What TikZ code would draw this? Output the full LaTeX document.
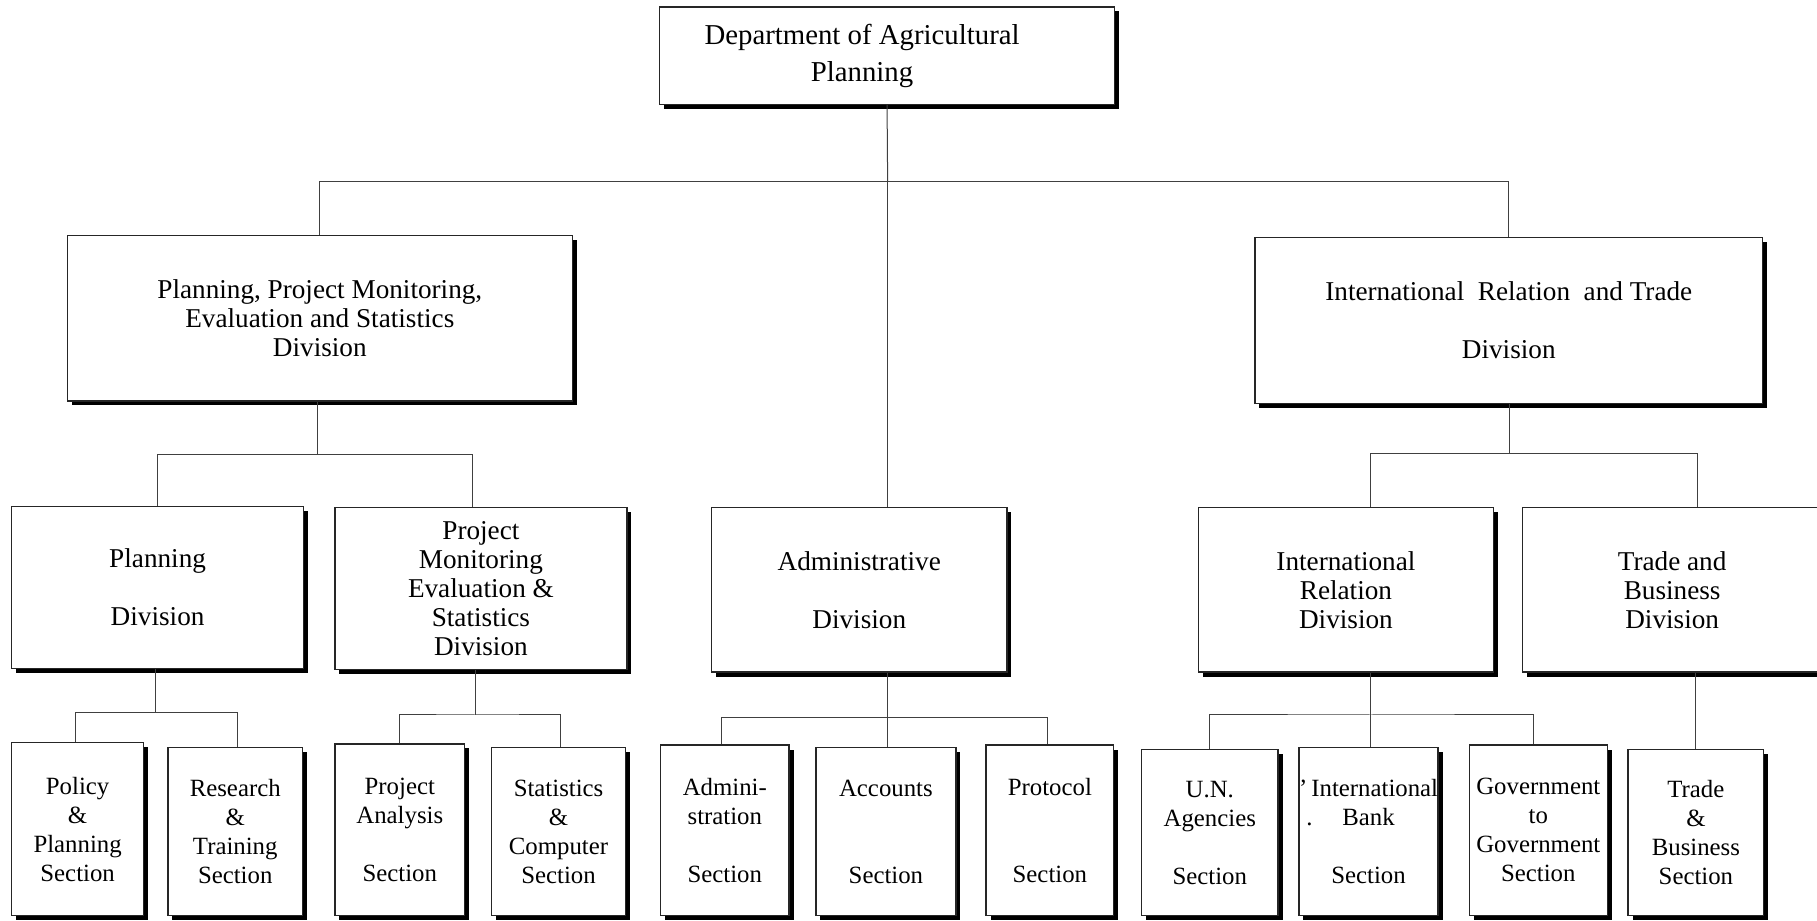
\documentclass[tikz,border=0pt]{standalone}
\usepackage{fontspec}
\setmainfont{Liberation Serif}
\usetikzlibrary{shadows}
\newcommand\bx[7][box]{\node[#1, minimum width={(#4-#2)*0.5794pt}, minimum height={(#5-#3)*0.5794pt}] (#6) at ({(#2+#4)/2},{(#3+#5)/2}) {#7};}
\begin{document}
\begin{tikzpicture}[x=0.5794pt,y=-0.5794pt,
  box/.style={draw=black!85, line width=0.7pt, fill=white, inner sep=0pt, align=center,
     drop shadow={shadow xshift=2.2pt, shadow yshift=-2.2pt, fill=black, opacity=1}},
  divfont/.style={font=\fontsize{13.6}{14.5}\selectfont},
  secfont/.style={font=\fontsize{12.4}{14.5}\selectfont},
  topfont/.style={font=\fontsize{14.4}{18.5}\selectfont},
  link/.style={draw=black!75, line width=0.5pt}]
\useasboundingbox (0,0) rectangle (1568,794);
\clip (0,0) rectangle (1568,794);
\coordinate (b1) at (766,157);
\coordinate (b2) at (274,392);
\coordinate (b3) at (1303,391);
\coordinate (b4) at (134,615);
\coordinate (b5) at (410,617);
\coordinate (b6) at (766,619);
\coordinate (b7) at (1183,617);
% level 0 and 1
\bx[box,topfont]{569}{6}{962}{90}{top}{\begin{tabular}{@{}c@{}}Department of Agricultural\\Planning\end{tabular}\hspace*{25pt}}
\bx[box,divfont]{58}{203}{494}{346}{ppmes}{Planning, Project Monitoring,\\Evaluation and Statistics\\Division}
\bx[box,divfont]{1083}{205}{1521}{348}{irt}{International\ \ Relation\ \ and Trade\\[14.5pt]Division}
% level 2
\bx[box,divfont]{10}{437}{262}{577}{plan}{Planning\\[14.5pt]Division}
\bx[box,divfont]{289}{438}{541}{578}{pmes}{Project\\Monitoring\\Evaluation \&\\Statistics\\Division}
\bx[box,divfont]{614}{438}{869}{580}{admin}{Administrative\\[14.5pt]Division}
\bx[box,divfont]{1034}{438}{1289}{580}{ird}{International\\Relation\\Division}
\bx[box,divfont]{1314}{438}{1572}{580}{tbd}{Trade and\\Business\\Division}
% level 3
\bx[box,secfont]{10}{641}{124}{790}{s1}{Policy\\\&\\Planning\\Section}
\bx[box,secfont]{145}{645}{261}{790}{s2}{Research\\\&\\Training\\Section}
\bx[box,secfont]{289}{642}{401}{790}{s3}{Project\\Analysis\\[14.5pt]Section}
\bx[box,secfont]{424}{645}{540}{790}{s4}{Statistics\\\&\\Computer\\Section}
\bx[box,secfont]{570}{643}{681}{790}{s5}{Admini-\\stration\\[14.5pt]Section}
\bx[box,secfont]{704}{645}{825}{790}{s6}{Accounts\\[29pt]Section}
\bx[box,secfont]{851}{643}{961}{790}{s7}{Protocol\\[29pt]Section}
\bx[box,secfont]{985}{647}{1103}{790}{s8}{U.N.\\Agencies\\[14.5pt]Section}
\bx[box,secfont]{1122}{645}{1240}{790}{s9}{'\,International\\\llap{.\hspace{1.2em}}Bank\\[14.5pt]Section}
\bx[box,secfont]{1268}{643}{1387}{790}{s10}{Government\\to\\Government\\Section}
\bx[box,secfont]{1405}{647}{1522}{790}{s11}{Trade\\\&\\Business\\Section}
% connectors
\draw[link] (top.south) -- (b1);
\draw[link] (b1) -- (b1 |- admin.north);
\draw[link] (ppmes.north) |- (b1) -| (irt.north);
\draw[link] (ppmes.south -| b2) -- (b2);
\draw[link] (plan.north) |- (b2) -| (pmes.north -| 408,0);
\draw[link] (irt.south -| b3) -- (b3);
\draw[link] (ird.north -| 1183,0) |- (b3) -| (tbd.north -| 1465,0);
\draw[link] (plan.south -| b4) -- (b4);
\draw[link] (s1.north -| 65,0) |- (b4) -| (s2.north -| 205,0);
\draw[link] (pmes.south -| b5) -- (b5);
\draw[link] (s3.north -| 345,0) |- (b5) -| (s4.north -| 484,0);
\draw[link] (admin.south -| b6) -- (b6);
\draw[link] (s5.north -| 623,0) |- (b6) -| (s7.north -| 904,0);
\draw[link] (b6) -- (s6.north -| b6);
\draw[link] (ird.south -| b7) -- (b7);
\draw[link] (s8.north -| 1044,0) |- (b7) -| (s10.north -| 1323,0);
\draw[link] (b7) -- (s9.north -| b7);
\draw[link] (tbd.south -| 1463,0) -- (s11.north -| 1463,0);
\end{tikzpicture}
\end{document}
